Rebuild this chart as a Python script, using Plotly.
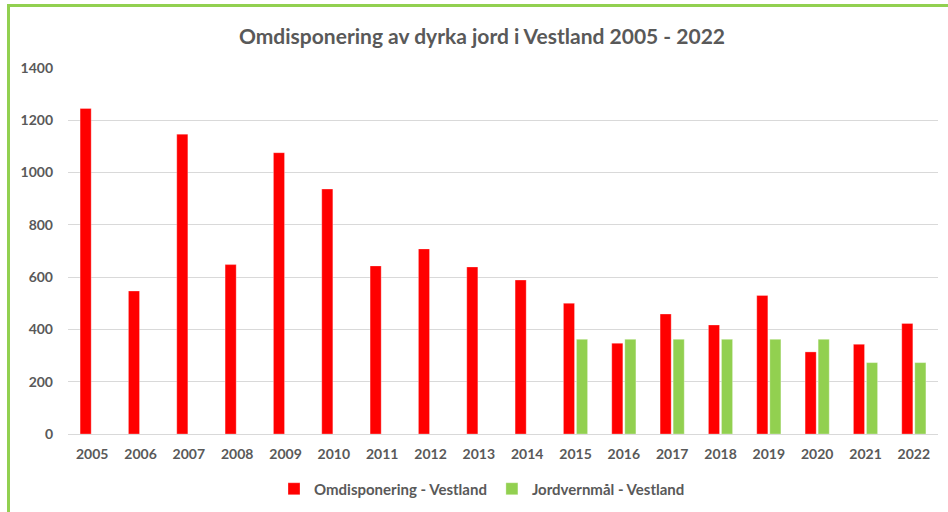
import plotly.graph_objects as go

years = [str(y) for y in range(2005, 2023)]
omdisponering = [1245, 547, 1147, 648, 1076, 937, 643, 708, 639, 589, 500, 347, 459, 417, 530, 314, 343, 423]
jordvernmaal = [None, None, None, None, None, None, None, None, None, None, 362, 362, 362, 362, 362, 362, 273, 273]

FONT = "Lato"
GREY = "#595959"
RED = "#FF0000"
GREEN = "#92D050"

fig = go.Figure()
fig.add_trace(go.Bar(x=years, y=omdisponering, name="Omdisponering - Vestland",
                     marker=dict(color=RED, line=dict(color="rgba(255,255,255,0.5)", width=0.6))))
fig.add_trace(go.Bar(x=years, y=jordvernmaal, name="Jordvernmål - Vestland",
                     marker=dict(color=GREEN, line=dict(color="rgba(255,255,255,0.5)", width=0.6))))

L, R, T, B = 68, 10, 68, 78
W, H = 948, 512
pw, ph = W - L - R, H - T - B

def px_x(p):
    return (p - L) / pw

def px_y(p):
    return (H - B - p) / ph

fig.update_layout(
    width=W, height=H,
    margin=dict(l=L, r=R, t=T, b=B, autoexpand=False),
    paper_bgcolor="white", plot_bgcolor="white",
    barmode="group", bargap=0.46, bargroupgap=0.15,
    font=dict(family=FONT, color=GREY, size=14),
    title=dict(text="<b>Omdisponering av dyrka jord i Vestland 2005 - 2022</b>",
               x=482 / W, xanchor="center", y=1 - 37 / H, yanchor="middle",
               font=dict(family=FONT, size=21, color=GREY)),
    showlegend=True,
    legend=dict(orientation="h", x=px_x(482), xanchor="center",
                y=px_y(489), yanchor="middle",
                font=dict(family=FONT, size=15, color=GREY, weight="bold"), itemwidth=30,
                traceorder="normal"),
    xaxis=dict(type="category", showgrid=False, showline=False, ticks="",
               tickfont=dict(family=FONT, size=14, color=GREY, weight="bold"),
               ticklabelstandoff=10),
    yaxis=dict(range=[0, 1400], dtick=200, showgrid=True, gridcolor="#D9D9D9", gridwidth=1.2,
               zeroline=True, zerolinecolor="#D9D9D9", zerolinewidth=1.2,
               showline=False, ticks="",
               tickfont=dict(family=FONT, size=14, color=GREY, weight="bold"),
               ticklabelstandoff=14),
    shapes=[
        dict(type="line", xref="paper", yref="paper", x0=px_x(8.5), x1=px_x(8.5),
             y0=px_y(5.5), y1=px_y(512), line=dict(color=GREEN, width=3), layer="above"),
        dict(type="line", xref="paper", yref="paper", x0=px_x(7), x1=px_x(948),
             y0=px_y(5.5), y1=px_y(5.5), line=dict(color=GREEN, width=3), layer="above"),
    ],
)

fig.write_html("out.html", config={"displayModeBar": False},
               post_script="document.body.style.margin='0';document.body.style.overflow='hidden';")
